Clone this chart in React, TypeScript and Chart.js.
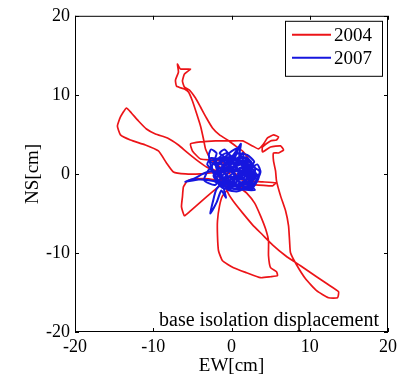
import React, { useEffect, useRef } from "react";
import { Chart, registerables } from "chart.js";

Chart.register(...registerables);

const seriesLabels = ["2004", "2007"];
const seriesColors = ["rgb(236,20,24)", "rgb(22,22,222)"];
const axisTicks = [-20, -10, 0, 10, 20];
const xTitle = "EW[cm]";
const yTitle = "NS[cm]";
const noteText = "base isolation displacement";

// 2004 trajectory (EW, NS in cm)
const ew2004 = [
  -0.13, -1.15, -2.69, -3.32, -3.58, -3.96, -4.48, -4.99, -5.5, -6.01, -7.03, -7.16, -6.78, -6.91, -6.52, -5.24,
  -6.01, -6.27, -6.01, -5.37, -4.6, -3.96, -3.2, -2.43, -1.53, -0.51, 0.51, 1.41, 2.17, 1.79, 0.9,
  -1.41, -3.96, -4.99, -5.24, -3.96, -2.05, -0.13, 1.41, 2.69, 3.45, 4.09, 4.6, 5.37, 6.01, 5.75, 4.99,
  3.96, 3.96, 4.99, 6.27, 6.65, 6.01, 5.37, 5.37, 5.63, 5.75, 6.27, 6.91, 7.29, 7.42, 7.54, 8.31,
  9.46, 10.87, 12.4, 13.55, 13.68, 12.4, 10.87, 8.82, 6.91, 5.24, 3.96, 2.69, 1.41, 0.38, -0.38, -0.77,
  -0.13, -1.15, -1.53, -1.79, -1.79, -1.66, -1.15, 0.26, 1.92, 3.71, 4.99, 5.88, 5.75, 4.99, 4.73, 4.73,
  4.35, 3.71, 2.94, 1.92, 1.15, 3.07, 5.24, 5.63, 3.96, 1.79, 0.13,
  -1.41, -2.94, -4.48, -5.63, -6.14, -6.27, -6.39, -6.01, -5.24, -4.22, -3.2, -2.3, -1.15,
  -2.05, -3.96, -5.88, -7.42, -8.31, -9.34, -11.0, -12.92, -14.19, -14.58, -14.19, -13.43, -12.79, -11.89,
  -10.87, -9.72, -8.18, -6.78, -5.75, -4.48, -3.2, -1.41, -0.13,
];
const ns2004 = [
  0.13, 0.63, 1.89, 3.16, 4.42, 6.06, 7.7, 9.22, 10.35, 10.73, 11.11, 11.87, 12.88, 13.89, 13.26, 13.26,
  12.63, 11.74, 10.98, 10.61, 9.6, 8.46, 7.07, 5.81, 4.93, 4.29, 3.54, 2.9, 1.89, 0.63, -0.25,
  1.64, 1.89, 2.9, 3.79, 4.04, 4.17, 4.17, 4.17, 3.54, 3.16, 3.79, 4.55, 4.93, 4.67, 4.29, 4.17,
  3.41, 2.78, 3.41, 3.54, 3.03, 2.65, 2.65, 1.64, 0.38, -0.88, -2.78, -4.67, -6.57, -8.46, -9.98, -11.49,
  -13.26, -14.77, -15.66, -15.66, -14.9, -14.02, -13.01, -11.62, -10.35, -8.97, -7.7, -6.44, -4.93, -3.66, -2.53, -1.52,
  -1.52, -2.78, -4.04, -5.93, -7.83, -9.72, -10.99, -11.87, -12.5, -13.13, -13.01, -12.88, -12.37, -11.87, -10.35, -8.46,
  -6.94, -5.3, -3.66, -2.4, -1.77, -1.39, -1.52, -1.14, -1.01, -0.88, -0.38,
  -0.88, -0.63, -0.63, -0.88, -1.64, -2.9, -4.17, -5.3, -4.67, -3.79, -2.9, -2.15, -1.14,
  0.13, 0.0, 0.0, 0.25, 1.39, 2.9, 3.66, 4.29, 4.93, 6.06, 7.2, 8.34, 7.7, 6.69,
  5.68, 5.05, 4.55, 3.66, 2.78, 1.77, 0.88, 0.25, 0.0,
];

// 2007 trajectory (EW, NS in cm)
const ew2007 = [
  0, 1.2, 2.1, 0.8, -0.9, -1.8, -0.5, 1.4, 2.8, 3.4, 2.2, 0.3, -1.6, -2.4, -2.9, -2.6,
  -1.9, -2.2, -0.8, 0.6, 1.2, 1.0, 2.4, 3.6, 2.9, 1.5, -0.6, -2.3, -4.2, -5.9, -4.8, -3.2,
  -1.4, 0.9, 2.6, 1.9, 0.2, -1.5, -0.9, -0.3, 0.5, 1.8, 3.0, 1.2, -0.3, -1.9, -2.4, -2.7,
  -1.9, -1.3, -0.7, -1.0, 0.4, 1.6, 2.9, 2.0, 0.9, -0.4, -1.2, -2.0, -0.4, 1.1, 2.3, 3.3,
  3.7, 2.6, 1.3, 0.1, -1.1, -2.6, -3.1, -2.1, -0.6, 0.7, 1.9, 1.0, -0.5, 0.8, 2.3, 3.1,
  2.2, 0.5, -1.3, -2.8, -3.5, -2.1, -0.9, 0.3, 1.5, 1.4, 2.5, 1.0,
  0.6, 2.7, 1.1, -1.7, 0.2, 2.5, -0.8, -1.9, 1.7, 3.2, 0.1, -2.2, -0.4, 2.0, 0.9, -1.2,
  -0.2, 1.6, 2.8, 1.3, -0.7, -2.5, -1.4, 0.5, 2.1, 0.0, -1.6, 1.0, 2.4, 3.0, 1.2, -0.3,
  -1.8, -0.9, 0.8, 2.2, 1.4, -0.1, -1.5, -2.0, -0.6, 0.7, 1.9, 3.1, 2.0, 0.4, -1.0, -2.3,
  -1.1, 0.6, 2.0, 2.7, 1.5, 0.1, -1.3, -0.2, 0.9, 0.4, 1.8, 2.6, 1.5, 0.0, -1.6, -2.7,
  -1.0, 0.3, 1.7, 2.9, 3.5, 2.3, 0.7,
];
const ns2007 = [
  0, 0.8, -0.3, -1.4, -0.6, 0.9, 2.1, 1.6, 0.5, -0.6, -1.7, -1.9, -1.2, 0.3, 2.4, 3.1,
  2.6, 1.5, 1.2, 2.9, 3.8, 1.9, 1.1, 0.3, -1.2, -2.0, -1.7, -0.9, -0.7, -1.0, -0.6, 0.2,
  0.4, 0.3, -0.8, 0.9, 1.5, 2.6, 3.1, 2.4, 0.8, -0.9, -2.0, -1.9, -0.4, -1.9, -3.6, -5.0,
  -3.6, -2.1, -3.0, -1.5, -0.8, 0.4, 1.5, 2.4, 2.6, 1.9, 0.2, -0.6, -1.2, -0.3, 0.6, 1.2,
  0.2, -1.9, -1.3, 0.5, 1.6, 2.0, 1.2, 0.3, 0.7, 1.1, 1.8, -0.7, -2.0, -2.2, -1.4, -0.3,
  0.2, -0.3, -0.4, 0.6, -0.8, -1.4, 0.1, 1.0, 2.7, 0.5, -0.3, 0.0,
  1.7, 0.9, -1.6, -0.2, 2.2, -0.9, -1.3, 1.9, 1.3, -1.0, -1.5, -0.4, 0.9, -0.4, 1.9, 1.0,
  -0.9, -1.5, 0.1, 1.2, 2.6, 1.0, -1.1, -1.1, 1.5, 0.6, -1.6, -0.2, -1.6, 0.8, 2.2, 1.3,
  0.5, -0.8, 0.6, -0.6, -1.0, -1.7, -0.3, 1.2, 1.7, -0.5, 0.1, -0.5, 1.0, 1.4, 0.5, -0.2,
  -1.8, -1.8, -1.1, -0.2, 0.8, 0.2, 1.4, 2.7, 3.3, 1.8, 2.1, 1.4, -0.6, -0.6, 0.8, 1.6,
  2.0, -0.1, -1.9, -1.5, -0.3, 0.4, 0.0,
];

const FONT = '"Liberation Serif", "Times New Roman", serif';

const toPoints = (xs: number[], ys: number[]) => xs.map((v, i) => ({ x: v, y: ys[i] }));

const framePlugin = {
  id: "matlabFrame",
  afterDatasetsDraw(chart: any) {
    const { ctx, chartArea, scales } = chart;
    const { left, right, top, bottom } = chartArea;
    const xs = scales.x;
    const ys = scales.y;
    ctx.save();
    ctx.strokeStyle = "#000";
    ctx.lineWidth = 1;
    ctx.strokeRect(left + 0.5, top + 0.5, right - left - 1, bottom - top - 1);
    const tl = 4;
    ctx.beginPath();
    axisTicks.forEach((v) => {
      const px = Math.round(xs.getPixelForValue(v)) + 0.5;
      ctx.moveTo(px, bottom);
      ctx.lineTo(px, bottom - tl);
      ctx.moveTo(px, top);
      ctx.lineTo(px, top + tl);
      const py = Math.round(ys.getPixelForValue(v)) + 0.5;
      ctx.moveTo(left, py);
      ctx.lineTo(left + tl, py);
      ctx.moveTo(right, py);
      ctx.lineTo(right - tl, py);
    });
    ctx.stroke();

    // legend box
    const bw = 97;
    const bh = 55;
    const bx = right - 6 - bw;
    const by = top + 5;
    ctx.fillStyle = "#fff";
    ctx.fillRect(bx, by, bw, bh);
    ctx.strokeStyle = "#000";
    ctx.strokeRect(bx + 0.5, by + 0.5, bw, bh);
    ctx.font = `19px ${FONT}`;
    ctx.textBaseline = "middle";
    ctx.textAlign = "left";
    chart.data.datasets.forEach((ds: any, i: number) => {
      const ly = by + 14 + i * 23;
      ctx.strokeStyle = ds.borderColor;
      ctx.lineWidth = 2;
      ctx.beginPath();
      ctx.moveTo(bx + 7, ly);
      ctx.lineTo(bx + 46, ly);
      ctx.stroke();
      ctx.fillStyle = "#000";
      ctx.fillText(ds.label, bx + 49, ly + 1);
    });

    // annotation
    ctx.font = `20px ${FONT}`;
    ctx.textAlign = "right";
    ctx.textBaseline = "alphabetic";
    ctx.fillStyle = "#000";
    ctx.fillText(noteText, right - 9, bottom - 6);
    ctx.restore();
  },
};

export default function App() {
  const ref = useRef<HTMLCanvasElement | null>(null);
  useEffect(() => {
    if (!ref.current) return;
    const tickFont = { family: FONT, size: 18 };
    const titleFont = { family: FONT, size: 19 };
    const chart = new Chart(ref.current, {
      type: "scatter",
      data: {
        datasets: [
          {
            label: seriesLabels[0],
            data: toPoints(ew2004, ns2004),
            showLine: true,
            borderColor: seriesColors[0],
            backgroundColor: seriesColors[0],
            borderWidth: 1.7,
            pointRadius: 0,
            tension: 0.15,
            order: 2,
          },
          {
            label: seriesLabels[1],
            data: toPoints(ew2007, ns2007),
            showLine: true,
            borderColor: seriesColors[1],
            backgroundColor: seriesColors[1],
            borderWidth: 2,
            pointRadius: 0,
            tension: 0.2,
            order: 1,
          },
        ],
      },
      options: {
        responsive: false,
        animation: false,
        devicePixelRatio: 1,
        layout: { padding: { top: 15, right: 16, left: 0, bottom: 0 } },
        plugins: { legend: { display: false }, tooltip: { enabled: false } },
        scales: {
          x: {
            type: "linear",
            min: -20,
            max: 20,
            grid: { display: false, drawTicks: false },
            border: { display: false },
            ticks: { font: tickFont, color: "#000", padding: 4, maxRotation: 0, autoSkip: false },
            afterBuildTicks: (s: any) => {
              s.ticks = axisTicks.map((v) => ({ value: v }));
            },
            afterFit: (s: any) => {
              s.height = 48;
            },
            title: { display: true, text: xTitle, font: titleFont, color: "#000", padding: { top: 0, bottom: 3 } },
          },
          y: {
            type: "linear",
            min: -20,
            max: 20,
            grid: { display: false, drawTicks: false },
            border: { display: false },
            ticks: { font: tickFont, color: "#000", padding: 5, autoSkip: false },
            afterBuildTicks: (s: any) => {
              s.ticks = axisTicks.map((v) => ({ value: v }));
            },
            afterFit: (s: any) => {
              s.width = 75;
            },
            title: { display: true, text: yTitle, font: titleFont, color: "#000", padding: { top: 22, bottom: 0 } },
          },
        },
      },
      plugins: [framePlugin],
    });
    return () => chart.destroy();
  }, []);
  return (
    <div style={{ position: "fixed", left: 0, top: 0, width: 404, height: 380, background: "#fff" }}>
      <canvas ref={ref} width={404} height={380} />
    </div>
  );
}
